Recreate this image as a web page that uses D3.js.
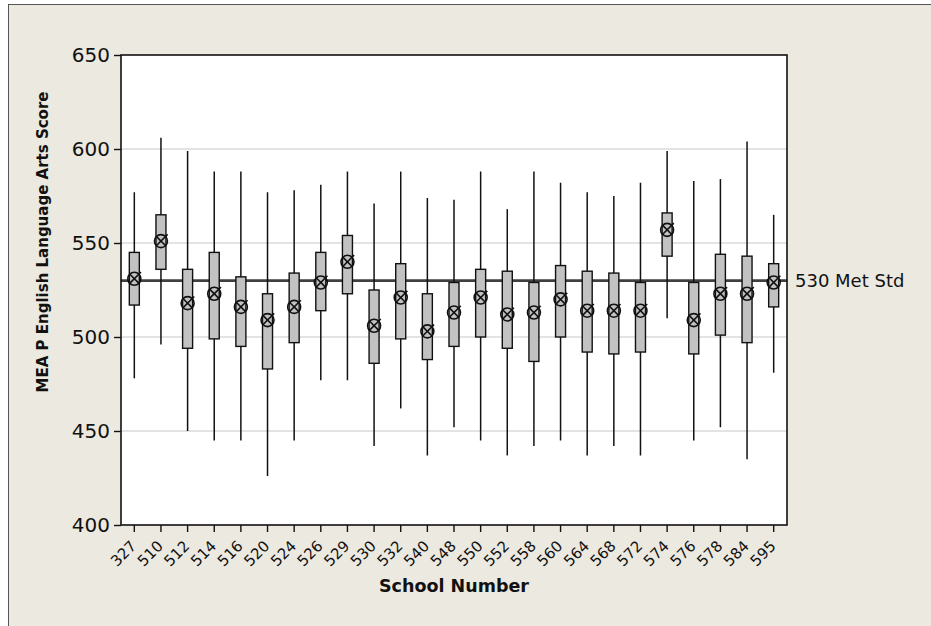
<!DOCTYPE html>
<html>
<head>
<meta charset="utf-8">
<title>MEAP English Language Arts Score by School</title>
<script src="https://d3js.org/d3.v7.min.js"></script>
<style>
    body { margin: 0; background: #fff; }
    svg { display: block; }
    .tick text { fill: #111; }
</style>
</head>
<body>
<div id="chart"></div>
<script>
    // school numbers on the x axis
    const schools = ["327", "510", "512", "514", "516", "520", "524", "526", "529", "530", "532", "540",
        "548", "550", "552", "558", "560", "564", "568", "572", "574", "576", "578", "584", "595"];

    // box plot summary values
    const lows  = [478, 496, 450, 445, 445, 426, 445, 477, 477, 442, 462, 437, 452, 445, 437, 442, 445, 437, 442, 437, 510, 445, 452, 435, 481];
    const q1s   = [517, 536, 494, 499, 495, 483, 497, 514, 523, 486, 499, 488, 495, 500, 494, 487, 500, 492, 491, 492, 543, 491, 501, 497, 516];
    const means = [531, 551, 518, 523, 516, 509, 516, 529, 540, 506, 521, 503, 513, 521, 512, 513, 520, 514, 514, 514, 557, 509, 523, 523, 529];
    const q3s   = [545, 565, 536, 545, 532, 523, 534, 545, 554, 525, 539, 523, 529, 536, 535, 529, 538, 535, 534, 529, 566, 529, 544, 543, 539];
    const highs = [577, 606, 599, 588, 588, 577, 578, 581, 588, 571, 588, 574, 573, 588, 568, 588, 582, 577, 575, 582, 599, 583, 584, 604, 565];

    const yTicks = [400, 450, 500, 550, 600, 650];
    const refValue = 530;
    const refLabel = "530 Met Std";

    const width = 931, height = 626;
    const margin = { top: 55, right: 144, bottom: 101, left: 121 };
    const plotW = width - margin.left - margin.right;
    const plotH = height - margin.top - margin.bottom;

    const svg = d3.select("#chart").append("svg")
        .attr("width", width)
        .attr("height", height)
        .style("font-family", "'DejaVu Sans', Verdana, sans-serif");

    // outer panel (right and bottom edges fall outside the picture)
    svg.append("rect")
        .attr("x", 8.5).attr("y", 4.5)
        .attr("width", width + 20).attr("height", height + 20)
        .attr("fill", "#ECE9E0")
        .attr("stroke", "#555");

    const g = svg.append("g").attr("transform", `translate(${margin.left},${margin.top})`);

    const x = d3.scaleBand().domain(schools).range([0, plotW]);
    const y = d3.scaleLinear().domain([400, 650]).range([plotH, 0]);

    g.append("rect")
        .attr("width", plotW).attr("height", plotH)
        .attr("fill", "#fff");

    // grid lines
    g.selectAll(".grid")
        .data(yTicks.filter(d => d > 400 && d < 650))
        .enter().append("line")
        .attr("class", "grid")
        .attr("x1", 0).attr("x2", plotW)
        .attr("y1", d => y(d)).attr("y2", d => y(d))
        .attr("stroke", "#c8c8c8")
        .attr("stroke-width", 1.2);

    // reference line
    g.append("line")
        .attr("x1", 0).attr("x2", plotW)
        .attr("y1", y(refValue)).attr("y2", y(refValue))
        .attr("stroke", "#404040")
        .attr("stroke-width", 2.6);

    const boxW = 10;
    const rows = schools.map((s, i) => ({ s, lo: lows[i], q1: q1s[i], mean: means[i], q3: q3s[i], hi: highs[i] }));

    const box = g.selectAll(".box")
        .data(rows)
        .enter().append("g")
        .attr("class", "box")
        .attr("transform", d => `translate(${x(d.s) + x.bandwidth() / 2},0)`);

    box.append("line")
        .attr("y1", d => y(d.lo)).attr("y2", d => y(d.hi))
        .attr("stroke", "#111")
        .attr("stroke-width", 1.5);

    box.append("rect")
        .attr("x", -boxW / 2)
        .attr("width", boxW)
        .attr("y", d => y(d.q3))
        .attr("height", d => y(d.q1) - y(d.q3))
        .attr("fill", "#c2c2c2")
        .attr("stroke", "#111")
        .attr("stroke-width", 1.4);

    // mean symbol: circle with a cross
    const r = 6.5;
    const k = r * 0.72;
    const sym = box.append("g")
        .attr("transform", d => `translate(0,${y(d.mean)})`)
        .attr("fill", "none")
        .attr("stroke", "#111")
        .attr("stroke-width", 1.6);
    sym.append("circle").attr("r", r);
    sym.append("line").attr("x1", -k).attr("y1", -k).attr("x2", k).attr("y2", k);
    sym.append("line").attr("x1", -k).attr("y1", k).attr("x2", k + 2).attr("y2", -k - 2);

    // frame
    g.append("rect")
        .attr("width", plotW).attr("height", plotH)
        .attr("fill", "none")
        .attr("stroke", "#111")
        .attr("stroke-width", 1.6);

    // axes
    const yAxis = g.append("g")
        .call(d3.axisLeft(y).tickValues(yTicks).tickSize(7).tickPadding(4))
        .attr("font-family", null)
        .attr("font-size", null);
    yAxis.select(".domain").remove();
    yAxis.selectAll(".tick line").attr("stroke", "#111").attr("stroke-width", 1.4);
    yAxis.selectAll(".tick text").style("font-size", "20px");

    const xAxis = g.append("g")
        .attr("transform", `translate(0,${plotH})`)
        .call(d3.axisBottom(x).tickSize(7).tickSizeOuter(0))
        .attr("font-family", null)
        .attr("font-size", null);
    xAxis.select(".domain").remove();
    xAxis.selectAll(".tick line").attr("stroke", "#111").attr("stroke-width", 1.4);
    xAxis.selectAll(".tick text")
        .style("font-size", "15px")
        .attr("text-anchor", "end")
        .attr("dy", null)
        .attr("y", null)
        .attr("transform", "translate(3,22) rotate(-45)");

    // titles
    svg.append("text")
        .attr("transform", "translate(48,242) rotate(-90)")
        .attr("text-anchor", "middle")
        .style("font-size", "15px")
        .style("font-weight", "bold")
        .attr("fill", "#111")
        .text("MEA P English Language Arts Score");

    svg.append("text")
        .attr("x", margin.left + plotW / 2)
        .attr("y", 592)
        .attr("text-anchor", "middle")
        .style("font-size", "17.5px")
        .style("font-weight", "bold")
        .attr("fill", "#111")
        .text("School Number");

    svg.append("text")
        .attr("x", margin.left + plotW + 8)
        .attr("y", margin.top + y(refValue))
        .attr("dy", "0.35em")
        .style("font-size", "18px")
        .attr("fill", "#111")
        .text(refLabel);
</script>
</body>
</html>
